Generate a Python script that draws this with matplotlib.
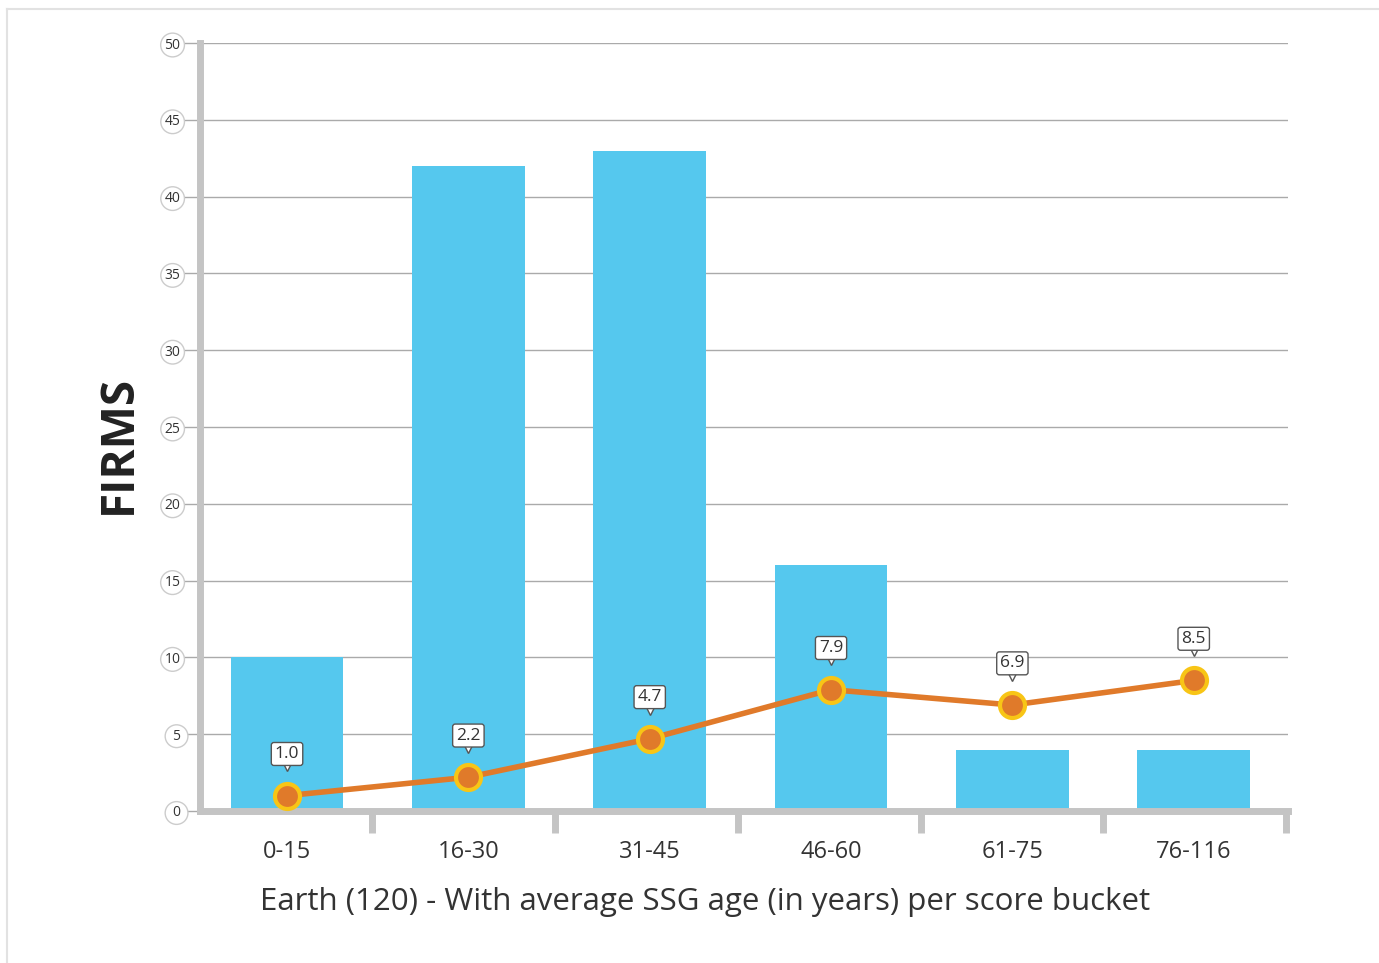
import numpy as np
import matplotlib.pyplot as plt
import matplotlib.transforms as mtransforms
from matplotlib.lines import Line2D

buckets = ["0-15", "16-30", "31-45", "46-60", "61-75", "76-116"]
firms = [10, 42, 43, 16, 4, 4]
avg_age = [1.0, 2.2, 4.7, 7.9, 6.9, 8.5]
yticks = [0, 5, 10, 15, 20, 25, 30, 35, 40, 45, 50]

plt.rcParams['font.family'] = ['Open Sans', 'DejaVu Sans']

fig = plt.figure(figsize=(13.79, 9.63), dpi=100)
ax = fig.add_axes([200/1379, 1-811/963, 1088/1379, 768/963])

# card border
fig.add_artist(Line2D([7/1379, 1], [1-9/963, 1-9/963], color='#e2e2e2', lw=1.5, transform=fig.transFigure))
fig.add_artist(Line2D([7/1379, 7/1379], [0, 1-9/963], color='#e2e2e2', lw=1.5, transform=fig.transFigure))

x = np.arange(len(buckets))
ax.bar(x, firms, width=0.62, color='#55C8EE', zorder=2)

ax.plot(x, avg_age, color='#E07A2A', lw=4, zorder=3)
ax.plot(x, avg_age, 'o', ms=18, mfc='#E07A2A', mec='#F8C516', mew=3, zorder=4)

# callout labels
notch = ax.transData + mtransforms.ScaledTranslation(0, 21/72, fig.dpi_scale_trans)
for xi, v in zip(x, avg_age):
    ax.plot(xi, v, marker='v', ms=7, mfc='white', mec='#555555', mew=1, zorder=6, transform=notch)
    ax.annotate(f"{v:.1f}", (xi, v), xytext=(0, 30), textcoords='offset points',
                ha='center', va='center', fontsize=12.5, color='#333333', zorder=7,
                bbox=dict(boxstyle='round,pad=0.2,rounding_size=0.15', fc='white', ec='#555555', lw=1))

ax.set_xlim(-0.48, 5.52)
ax.set_ylim(0, 50)
ax.set_yticks(yticks)
ax.set_yticklabels([str(t) for t in yticks], fontsize=10, color='#333333')
for lab in ax.get_yticklabels():
    lab.set_bbox(dict(boxstyle='circle,pad=0.28', fc='white', ec='#cccccc', lw=1))
ax.tick_params(axis='y', length=14, width=1, color='#aaaaaa', pad=0)
ax.yaxis.grid(True, color='#aaaaaa', lw=1, zorder=1)
ax.set_axisbelow(True)

ax.set_xticks([i + 0.47 + 0.008 * i for i in x])
ax.set_xticklabels([])
ax.tick_params(axis='x', length=16, width=5, color='#c4c4c4', direction='out')
for xi, b in zip(x, buckets):
    ax.text(xi, -0.053, b, transform=ax.get_xaxis_transform(), ha='center', va='center',
            fontsize=17, fontweight='medium', color='#333333')

for s in ['top', 'right']:
    ax.spines[s].set_visible(False)
ax.spines['left'].set_color('#c4c4c4')
ax.spines['left'].set_linewidth(5)
ax.spines['bottom'].set_color('#c4c4c4')
ax.spines['bottom'].set_linewidth(5)

ax.set_ylabel("FIRMS", fontsize=33, fontweight='bold', color='#222222')
ax.yaxis.set_label_coords(-0.053, 0.477)
ax.set_xlabel("Earth (120) - With average SSG age (in years) per score bucket",
              fontsize=22.5, fontweight='medium', color='#333333')
ax.xaxis.set_label_coords(0.464, -0.099)

fig.savefig("out.png", dpi=100)
